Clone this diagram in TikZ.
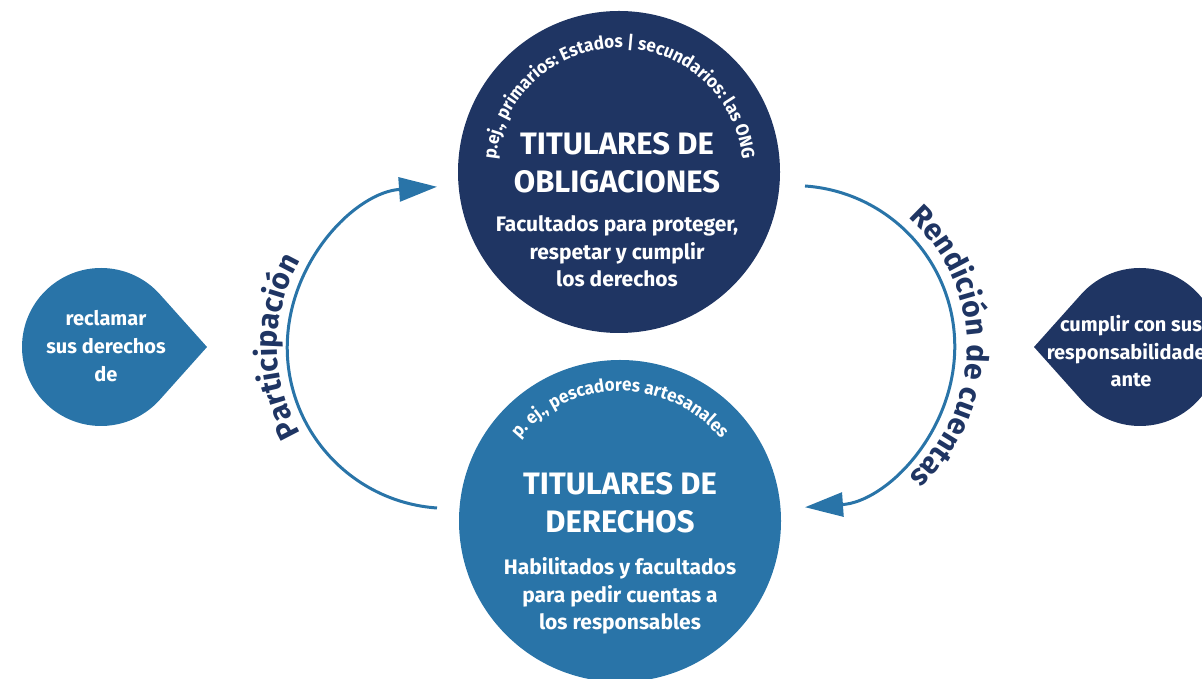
\documentclass[tikz,border=0pt]{standalone}
\usepackage{fontspec}
\setmainfont{Fira Sans}
\newfontfamily\arcfont[FakeStretch=0.95]{Fira Sans}
\usetikzlibrary{arrows.meta,decorations.text}
\definecolor{navy}{HTML}{1F3563}
\definecolor{azul}{HTML}{2974A8}
\begin{document}
\begin{tikzpicture}[x=1pt,y=1pt,
    titular/.style={circle,minimum size=322pt,inner sep=0pt},
    flujo/.style={draw=azul,line width=3pt,-{Triangle[length=38pt,width=24pt]}},
    txt/.style={text=white,align=center,anchor=base},
    arco/.style={decorate,decoration={text along path,text color=#1,text align=center}}]
    \useasboundingbox (0,0) rectangle (1202,679);
    \node[titular,fill=navy] (obl) at (619,507) {};
    \node[titular,fill=azul] (der) at (620,158) {};
    \node[txt,font=\bfseries\fontsize{31}{38}\selectfont] (oblT) at (617,486) {TITULARES DE\\OBLIGACIONES};
    \node[txt,font=\bfseries\fontsize{21}{27.5}\selectfont] (oblS) at (617,392) {Facultados para proteger,\\respetar y cumplir\\los derechos};
    \node[txt,font=\bfseries\fontsize{31}{38}\selectfont] (derT) at (620,146) {TITULARES DE\\DERECHOS};
    \node[txt,font=\bfseries\fontsize{21}{27.5}\selectfont] (derS) at (620,49) {Habilitados y facultados\\para pedir cuentas a\\los responsables};
    \path[arco=white,decoration={text={|\arcfont\bfseries\fontsize{18}{18}\selectfont|p.ej., primarios: Estados {\textbar} secundarios: las ONG}}]
        (obl) ++(180:124) arc[start angle=180,end angle=0,radius=124];
    \path[arco=white,decoration={text={|\arcfont\bfseries\fontsize{18}{18}\selectfont|p. ej., pescadores artesanales}}]
        (der) ++(150:130) arc[start angle=150,end angle=30,radius=130];
    \fill[azul] (101,332) ++(41.8:79) arc[start angle=41.8,end angle=318.2,radius=79] -- (207,332) -- cycle;
    \node[txt,font=\bfseries\fontsize{20}{28}\selectfont] (recl) at (106,297) {reclamar\\sus derechos\\de};
    \fill[navy] (1140,332) ++(221.8:79) arc[start angle=221.8,end angle=498.2,radius=79] -- (1034,332) -- cycle;
    \node[txt,font=\bfseries\fontsize{20}{27.5}\selectfont] (cump) at (1131,292) {cumplir con sus\\responsabilidades\\ante};
    \coordinate (parIni) at (437,171);
    \coordinate (renIni) at (805,493);
    \draw[flujo] (parIni) arc[start angle=266,end angle=94,radius=161];
    \draw[flujo] (renIni) arc[start angle=86,end angle=-86,radius=161];
    \path[arco=navy,decoration={text={|\bfseries\fontsize{30}{30}\selectfont|Participación}}]
        (448,332) ++(235:171) arc[start angle=235,end angle=125,radius=171];
    \path[arco=navy,decoration={text={|\bfseries\fontsize{30}{30}\selectfont|Rendición de cuentas}}]
        (794,332) ++(60:173) arc[start angle=60,end angle=-60,radius=173];
\end{tikzpicture}
\end{document}
